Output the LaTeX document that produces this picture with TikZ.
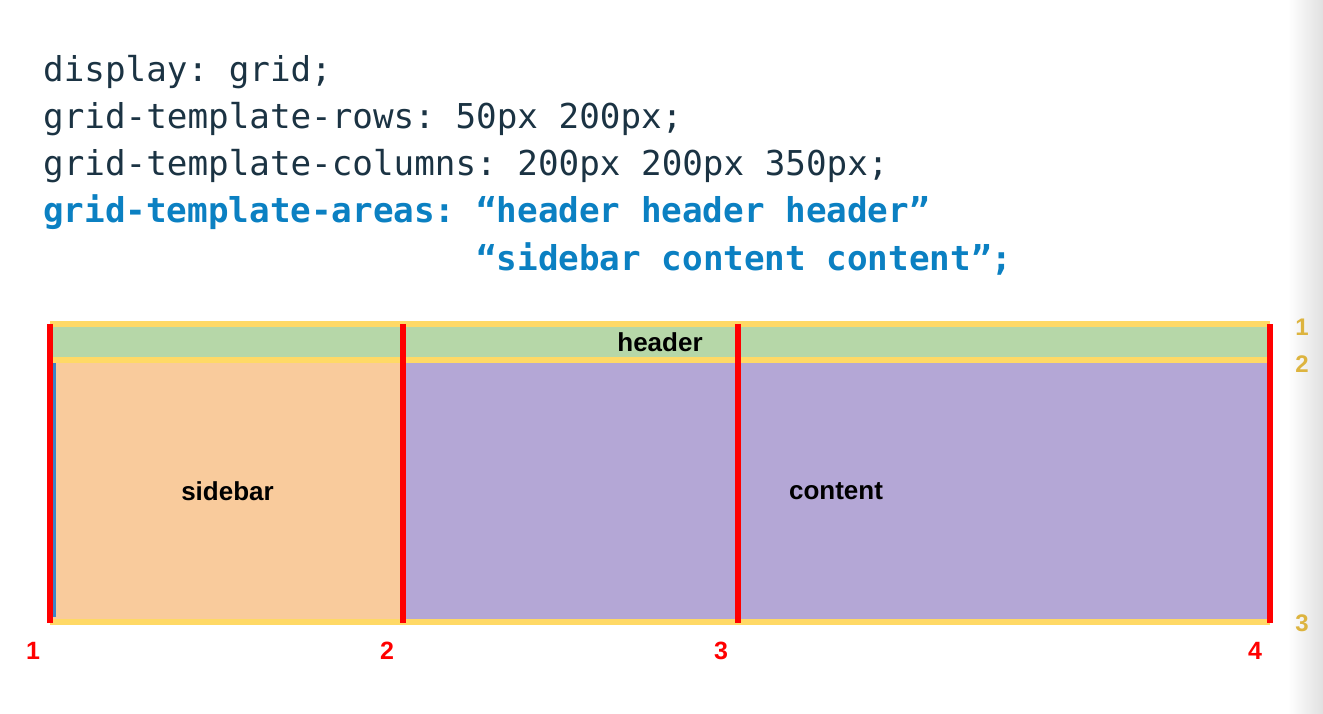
\documentclass[tikz,border=0pt]{standalone}
\usepackage{fontspec}
\setmonofont{DejaVu Sans Mono}
\setsansfont{Liberation Sans}
\usetikzlibrary{positioning}
\definecolor{codeink}{HTML}{1B3343}
\definecolor{codeblue}{HTML}{0B80C2}
\definecolor{areagreen}{HTML}{B6D7A8}
\definecolor{areaorange}{HTML}{F9CB9C}
\definecolor{areapurple}{HTML}{B4A7D6}
\definecolor{lineyellow}{HTML}{FFD966}
\definecolor{numyellow}{HTML}{DDB43F}
\definecolor{lineblue}{HTML}{3D85C6}
\tikzset{
codeline/.style = {anchor=base west, inner sep=0pt, text=codeink, font=\ttfamily\fontsize{34.25}{40}\selectfont},
codehi/.style = {codeline, text=codeblue, font=\ttfamily\bfseries\fontsize{34.25}{40}\selectfont},
cell/.style = {inner sep=0pt, font=\sffamily\bfseries\fontsize{26}{30}\selectfont},
colnum/.style = {inner sep=0pt, text=red, font=\sffamily\bfseries\fontsize{25}{30}\selectfont},
rownum/.style = {inner sep=0pt, text=numyellow, font=\sffamily\bfseries\fontsize{24}{30}\selectfont},
colline/.style = {draw=red, line width=6pt},
rowline/.style = {draw=lineyellow, line width=6pt}
}
\begin{document}
\begin{tikzpicture}[x=1pt, y=-1pt]
  \useasboundingbox (0,0) rectangle (1323,714);
  \shade [left color=white, right color=black!12] (1288,0) rectangle (1323,714);

  % css code
  \node [codeline] (display) at (43,82) {display: grid;};
  \node [codeline] (rows) at (43,129) {grid-template-rows: 50px 200px;};
  \node [codeline] (cols) at (43,176) {grid-template-columns: 200px 200px 350px;};
  \node [codehi] (areas) at (43,223) {grid-template-areas: “header header header”};
  \node [codehi] (areasb) at (43,270) {\hphantom{grid-template-areas:\ }“sidebar content content”;};

  % grid areas
  \node [cell, fill=areagreen, minimum width=1220pt, minimum height=30pt] (header) at (660,342) {header};
  \node [cell, fill=areaorange, minimum width=349pt, minimum height=256pt] (sidebar) at (227.5,491) {sidebar};
  \node [cell, fill=areapurple, minimum width=868pt, minimum height=256pt] (content) at (836,491) {content};

  % row lines
  \coordinate (r1w) at (50,324);   \coordinate (r1e) at (1270,324);
  \coordinate (r2w) at (50,360);   \coordinate (r2e) at (1270,360);
  \coordinate (r3w) at (50,622);   \coordinate (r3e) at (1270,622);
  \draw [rowline] (r1w) -- (r1e);
  \draw [rowline] (r2w) -- (r2e);
  \draw [rowline] (r3w) -- (r3e);
  \draw [lineblue, line width=2.5pt] ([xshift=1.5pt]sidebar.north west) -- ([xshift=1.5pt, yshift=2pt]sidebar.south west);

  % column lines
  \coordinate (c1t) at (50,324);   \coordinate (c1b) at (50,623);
  \coordinate (c2t) at (403,324);  \coordinate (c2b) at (403,623);
  \coordinate (c3t) at (738,324);  \coordinate (c3b) at (738,623);
  \coordinate (c4t) at (1270,324); \coordinate (c4b) at (1270,623);
  \draw [colline] (c1t) -- (c1b);
  \draw [colline] (c2t) -- (c2b);
  \draw [colline] (c3t) -- (c3b);
  \draw [colline] (c4t) -- (c4b);

  % line numbers
  \node [colnum] (n1) at (33,651) {1};
  \node [colnum] (n2) at (387,651) {2};
  \node [colnum] (n3) at (721,651) {3};
  \node [colnum] (n4) at (1255,651) {4};
  \node [rownum] (m1) at (1302,327) {1};
  \node [rownum] (m2) at (1302,364) {2};
  \node [rownum] (m3) at (1302,623) {3};
\end{tikzpicture}
\end{document}
